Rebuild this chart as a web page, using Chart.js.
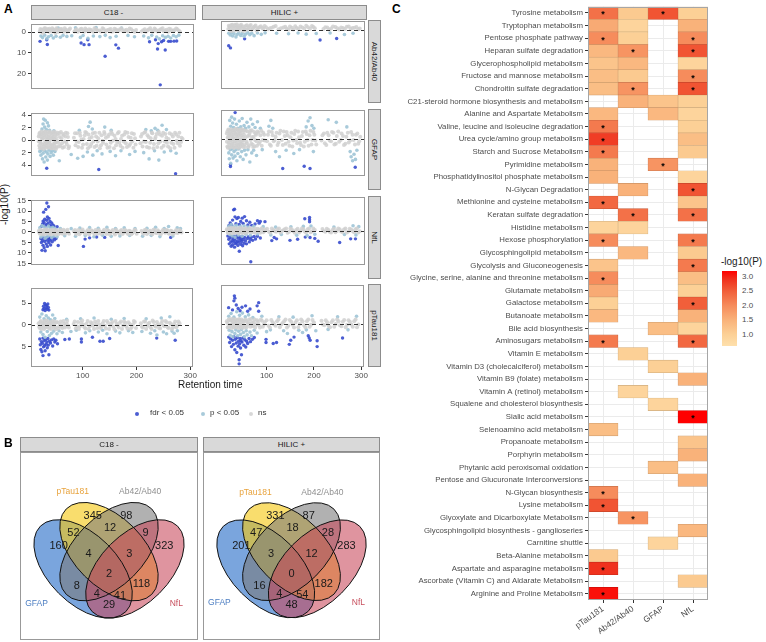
<!DOCTYPE html>
<html>
<head>
<meta charset="utf-8">
<script src="https://cdn.jsdelivr.net/npm/chart.js@4.4.0/dist/chart.umd.min.js"></script>
<style>
  body { margin: 0; width: 766px; height: 642px; position: relative; background: #fff; overflow: hidden;
         font-family: "Liberation Sans", Arial, sans-serif; }
  canvas { position: absolute; }
  .strip { position: absolute; background: #d9d9d9; border: 1px solid #8c8c8c; box-sizing: border-box;
           font-size: 8px; color: #1a1a1a; display: flex; align-items: center; justify-content: center; }
  .strip.v span { transform: rotate(90deg); white-space: nowrap; }
  .tag { position: absolute; font-weight: bold; font-size: 12px; color: #000; }
  .txt { position: absolute; white-space: nowrap; color: #1a1a1a; }
  .dot { position: absolute; width: 4px; height: 4px; border-radius: 2px; }
</style>
</head>
<body>
<script>
const F = "'Liberation Sans', Arial, sans-serif";

// ---------- panel A: facet scatter ----------
const colNames = ['C18 -', 'HILIC +'];
const rowNames = ['Ab42/Ab40', 'GFAP', 'NfL', 'pTau181'];
const xTicks = [100, 200, 300];
const rowTicks = [[0, -10, -20], [4, 2, 0, -2, -4], [15, 10, 5, 0, -5, -10, -15], [5, 0, -5]];
const rowMin = [-27.5, -5.75, -15.8, -9.6];
const rowMax = [4.1, 4.4, 15.4, 8.5];

// pairs: retention time, signed -log10(P)
const c18AbNs = [20,0.5, 23,1.2, 26,-0.3, 28,1.8, 31,0.8, 34,1.5, 37,0.2, 40,1.1, 43,1.9, 46,0.6, 49,-0.4, 52,1.3, 56,0.9, 60,1.6, 64,0.3, 68,1.2, 72,0.7, 76,1.8, 84,0.4, 88,1.4, 93,0.9, 97,1.7, 102,0.2, 106,1.1, 111,1.5, 116,0.6, 121,1.9, 126,1.0, 133,0.4, 138,1.6, 143,0.8, 148,1.3, 153,0.2, 158,1.7, 163,0.9, 168,1.4, 174,0.5, 180,1.2, 186,1.8, 192,0.7, 198,1.1, 208,0.4, 214,1.5, 219,0.9, 224,1.9, 229,0.3, 234,1.3, 239,0.8, 244,1.6, 249,0.5, 254,1.2, 259,1.7, 264,0.6, 269,1.0, 274,1.4, 279,0.3,
  21,1.6, 24,0.1, 27,1.0, 30,2.0, 33,0.6, 35,1.3, 38,1.7, 42,0.4, 45,1.4, 48,0.9, 51,1.9, 54,0.3, 58,1.4, 62,0.7, 66,1.9, 70,0.2, 74,1.3, 86,1.0, 90,0.3, 95,1.5, 100,0.8, 104,1.8, 109,0.5, 114,1.2, 119,0.3, 124,1.4, 130,0.8, 136,1.9, 141,0.3, 146,1.1, 151,1.6, 156,0.5, 161,1.3, 166,0.7, 171,1.8, 177,0.9, 183,0.4, 189,1.4, 195,0.2, 211,1.0, 216,0.2, 221,1.3, 227,0.7, 232,1.8, 237,0.4, 242,1.1, 247,1.9, 252,0.7, 257,0.3, 262,1.4, 267,0.8, 272,1.8, 277,0.9];
const c18AbP = [22,-1.8, 25,-2.6, 29,-1.4, 33,-3.1, 36,-2.2, 41,-1.6, 45,-2.8, 50,-1.9, 54,2.1, 58,-2.4, 63,-1.5, 70,-2.0, 79,-1.7, 86,2.2, 95,-2.5, 100,-1.6, 109,-2.9, 119,-1.8, 124,2.3, 131,-2.1, 141,-1.5, 150,-2.6, 161,-1.9, 171,2.0, 183,-1.6, 195,-2.2, 212,-1.8, 221,-2.7, 227,-1.5, 236,-2.3, 241,-3.2, 247,-1.7, 252,-2.5, 257,-1.9, 262,-2.8, 267,-1.6, 272,-2.2, 277,-1.4];
const c18AbFdr = [20.4,-4.4, 32.8,-3.6, 33.9,-5.9, 96.3,-5.2, 101.8,-6.0, 111,-6.0, 108.7,-3.6, 140.7,-11.6, 160.5,-6.1, 165.4,-7.7, 222.8,-4.6, 233.9,-3.6, 237.6,-8.1, 238.9,-5.5, 242.6,-25.5, 245,-4.6, 248.7,-4.0, 251.8,-8.6, 258,-4.4, 262,-4.4, 268,-4.3, 273,-4.2];

const hilicAbNs = [19,0.4, 22,1.6, 24,-0.5, 27,2.3, 29,0.9, 32,1.8, 34,-0.2, 37,2.5, 39,1.1, 42,0.3, 44,2.0, 47,1.4, 50,-0.6, 53,0.8, 56,1.9, 59,0.2, 62,1.3, 66,2.2, 70,0.6, 74,1.5, 78,-0.3, 82,1.0, 87,1.7, 92,0.4, 98,1.2, 106,0.7, 114,1.4, 124,0.3, 134,1.1, 141,0.6, 148,1.5, 155,0.2, 162,0.9, 170,1.6, 178,0.5, 186,1.2, 194,1.8, 200,0.7, 218,0.4, 226,1.1, 234,0.6, 243,1.3, 251,0.2, 259,0.9, 267,1.4, 275,0.5, 283,1.0, 291,0.3,
  20,1.9, 23,0.7, 25,2.1, 28,-0.4, 30,1.4, 33,2.4, 36,0.5, 38,1.7, 41,-0.3, 43,1.2, 46,2.3, 49,0.6, 51,1.6, 55,-0.1, 58,2.1, 61,0.7, 64,1.8, 68,0.0, 72,1.2, 76,2.0, 80,0.5, 85,1.3, 90,0.8, 95,1.8, 102,0.3, 110,1.0, 118,1.8, 129,0.7, 138,1.4, 145,0.1, 152,1.0, 159,1.7, 166,0.4, 174,1.1, 182,1.9, 190,0.5, 197,1.3, 222,1.2, 230,0.2, 238,1.5, 247,0.7, 255,1.1, 263,0.4, 271,1.6, 279,0.8, 287,1.3, 294,0.6];
const hilicAbP = [20,-1.6, 23,-2.4, 26,-1.3, 28,-2.9, 31,-1.8, 35,-3.3, 38,-2.1, 41,-1.5, 45,-2.6, 48,-1.7, 52,-3.0, 55,-2.0, 60,-1.4, 64,-2.3, 68,-1.6, 73,-2.7, 80,-1.5, 88,-2.1, 96,-1.4, 120,-1.6, 145,-1.8, 165,-1.5, 182,-2.0, 203,-1.7, 232,-1.5, 262,-2.2, 280,-1.6];
const hilicAbFdr = [19.8,-7.4, 23.5,-8.4, 53.1,-4.2, 211,-4.7, 245.7,-4.0];

const c18GfNs = [18,0.6, 19,-0.9, 20,1.2, 21,-0.3, 22,0.9, 23,-1.3, 24,0.2, 25,1.0, 26,-0.7, 27,0.4, 28,-1.1, 29,1.3, 30,-0.2, 31,0.7, 32,-0.9, 33,1.1, 34,-0.5, 35,0.3, 36,-1.2, 37,0.8, 38,-0.1, 39,1.2, 40,-0.8, 41,0.5, 42,-1.3, 43,0.1, 44,1.0, 45,-0.6, 46,0.6, 47,-1.0, 48,1.3, 49,-0.3, 50,0.4, 51,-1.1, 52,0.9, 54,-0.4, 56,1.1, 58,-0.9, 60,0.3, 62,-1.2, 64,0.8, 66,-0.2, 68,1.2, 70,-0.7, 72,0.5, 74,-1.0,
  83,0.4, 86,-0.8, 89,1.1, 92,-0.3, 95,0.7, 98,-1.2, 101,0.2, 104,1.3, 107,-0.6, 110,0.9, 113,-1.0, 116,0.5, 119,-0.2, 122,1.2, 125,-0.9, 128,0.3, 131,-1.3, 134,0.8, 137,-0.4, 140,1.0, 143,-0.7, 146,0.6, 149,-1.1, 152,1.3, 155,-0.1, 158,0.7, 161,-0.8, 164,1.1, 167,-0.4, 170,0.2, 173,-1.2, 176,0.9, 179,-0.5, 182,1.2, 185,-0.9, 188,0.4, 191,-0.2, 194,1.0, 197,-0.7,
  207,0.6, 210,-1.0, 213,1.2, 216,-0.3, 219,0.8, 222,-1.2, 225,0.3, 228,1.1, 231,-0.6, 234,0.5, 237,-1.1, 240,1.3, 243,-0.2, 246,0.7, 249,-0.9, 252,1.0, 255,-0.4, 258,0.2, 261,-1.3, 264,0.9, 267,-0.6, 270,1.2, 273,-0.1, 276,0.6, 279,-0.9, 282,0.4,
  18,-0.2, 19,1.0, 20,-1.3, 21,0.6, 22,-0.5, 23,1.4, 24,-1.0, 25,0.3, 26,1.2, 27,-1.4, 28,0.8, 29,-0.6, 30,1.4, 31,-1.2, 32,0.3, 33,-0.4, 34,1.3, 35,-1.0, 36,0.5, 37,-0.2, 38,1.4, 39,-0.6, 40,0.2, 41,-1.3, 42,1.1, 43,-0.9, 44,0.4, 45,1.3, 46,-1.3, 47,0.2, 48,-0.5, 49,1.0, 50,-1.4, 52,-0.1, 53,1.2, 55,-1.0, 57,0.5, 59,1.3, 61,-0.5, 63,1.0, 65,-1.1, 67,0.6, 69,-0.3, 71,1.1, 73,-1.3,
  85,1.1, 88,-0.2, 91,-1.1, 94,1.2, 97,0.1, 100,-0.7, 103,0.8, 106,1.2, 109,-1.3, 112,0.3, 115,-0.6, 118,1.1, 121,-1.1, 124,0.6, 127,-0.2, 130,1.2, 133,-0.8, 136,-0.1, 139,1.3, 142,0.4, 145,-1.2, 148,0.9, 151,-0.4, 154,1.0, 157,-1.3, 160,0.2, 163,-0.3, 166,1.3, 169,-0.9, 172,0.7, 175,-0.2, 178,1.3, 181,-1.1, 184,0.5, 187,-0.6, 190,1.1, 193,-1.2, 196,0.3,
  206,-0.5, 209,1.0, 212,-0.2, 215,1.3, 218,-1.1, 221,0.5, 224,-0.4, 227,1.2, 230,-1.3, 233,0.2, 236,1.0, 239,-0.5, 242,0.9, 245,-1.2, 248,1.2, 251,-0.2, 254,0.4, 257,-1.0, 260,1.1, 263,-0.4, 266,0.6, 269,-1.2, 272,0.9, 275,-0.5, 278,1.2, 281,-0.3, 284,0.2];
const c18GfP = [24,1.8, 26,2.6, 27,3.4, 29,2.1, 30,3.2, 32,1.7, 34,2.8, 36,2.3, 38,1.6, 46,1.5, 93,1.6, 110,2.2, 113,2.9, 117,1.8, 140,2.1, 152,1.6, 216,1.7, 226,1.5, 233,1.9, 238,1.6, 246,2.4, 254,1.7,
  20,-1.8, 22,-2.4, 23,-1.6, 25,-3.0, 26,-2.1, 28,-3.5, 29,-1.7, 31,-2.7, 32,-1.9, 34,-3.2, 35,-2.2, 37,-1.6, 39,-2.6, 41,-2.0, 43,-1.7, 45,-2.4, 48,-1.8, 56,-3.3, 78,-2.3, 90,-2.9, 100,-2.6, 108,-1.9, 118,-2.4, 126,-1.7, 135,-2.2, 150,-1.8, 160,-2.5, 170,-1.7, 186,-2.3, 196,-1.8, 212,-2.0, 222,-3.0, 232,-1.7, 240,-3.2, 250,-1.9, 262,-1.7, 272,-2.1];
const c18GfFdr = [32.8,-4.5, 129,-4.7, 271,-5.4];

const hilicGfNs = [16,0.8, 17,-1.2, 18,0.2, 19,1.4, 20,-0.6, 21,0.5, 22,-1.4, 23,1.0, 24,-0.2, 25,0.7, 26,-1.0, 27,1.3, 28,-0.4, 29,0.3, 30,-1.3, 31,0.9, 32,-0.8, 33,1.2, 34,0.0, 35,-1.1, 36,0.6, 37,-0.5, 38,1.4, 39,-1.4, 40,0.4, 41,-0.9, 42,1.1, 43,-0.1, 44,0.8, 45,-1.2, 46,1.3, 47,-0.6, 48,0.2, 49,-1.0, 50,1.0, 51,-0.3, 52,0.6, 54,-1.3, 56,1.2, 58,-0.7, 60,0.4, 62,-1.1, 64,0.9, 66,-0.2, 68,1.3, 70,-0.9, 72,0.3, 74,-1.2, 76,0.8, 78,-0.4, 80,1.1, 83,-0.8, 86,0.5, 89,-1.1, 92,0.9, 95,-0.3,
  102,0.6, 106,-0.9, 110,1.0, 114,-0.4, 118,0.3, 122,-1.0, 126,0.8, 131,-0.2, 135,1.1, 139,-0.8, 143,0.5, 147,-1.1, 151,0.9, 155,-0.3, 159,1.2, 163,-0.7, 167,0.2, 171,-1.0, 175,1.0, 179,-0.5, 183,0.7, 187,-1.1, 191,1.2, 195,-0.2, 199,0.6, 203,-0.9,
  216,0.5, 221,-0.7, 226,0.9, 231,-0.3, 236,1.0, 241,-0.9, 246,0.4, 251,-0.5, 256,0.8, 261,-1.0, 266,0.3, 271,-0.6, 276,1.0, 281,-0.2, 286,0.6, 291,-0.8, 295,0.3,
  16,-0.5, 17,1.1, 18,-1.4, 19,0.1, 20,1.3, 21,-0.9, 22,0.7, 23,-0.3, 24,1.4, 25,-1.3, 26,0.2, 27,-0.8, 28,1.2, 29,-0.1, 30,0.6, 31,-1.4, 32,1.4, 33,-0.4, 34,0.9, 35,1.5, 36,-1.3, 37,0.3, 38,-0.9, 39,0.8, 40,1.3, 41,-0.2, 42,-1.4, 43,0.6, 44,-0.6, 45,1.4, 46,-0.9, 47,0.5, 48,1.4, 49,-0.2, 50,-1.3, 52,1.3, 53,-0.9, 55,0.2, 57,-0.5, 59,1.1, 61,-1.3, 63,0.5, 65,1.2, 67,-0.8, 69,0.2, 71,-1.3, 73,1.0, 75,-0.2, 77,0.6, 79,-1.1, 82,0.9, 85,-0.5, 88,1.2, 91,-0.2, 94,0.6,
  100,-0.4, 104,1.1, 108,-1.1, 112,0.5, 116,-0.2, 120,0.9, 124,-0.6, 128,1.2, 133,-1.0, 137,0.4, 141,1.0, 145,-0.5, 149,0.2, 153,-1.2, 157,0.7, 161,-0.2, 165,1.1, 169,-0.6, 173,0.4, 177,-1.2, 181,1.1, 185,-0.2, 189,0.5, 193,-0.9, 197,1.0, 201,-0.3,
  214,-0.3, 219,0.8, 224,-1.0, 229,0.5, 234,-0.4, 239,0.9, 244,-0.8, 249,1.1, 254,-0.2, 259,0.4, 264,-0.8, 269,0.9, 274,-0.3, 279,0.6, 284,-0.9, 289,0.8, 293,-0.4];
const hilicGfP = [22,2.8, 24,1.9, 26,3.3, 28,2.4, 30,1.7, 32,3.0, 36,2.2, 39,1.6, 42,2.7, 45,1.8, 48,3.1, 52,2.0, 55,1.6, 58,2.5, 62,1.8, 66,3.0, 70,2.2, 75,1.7, 80,2.6, 86,1.6, 104,1.9, 108,2.8, 112,1.6, 182,1.8, 186,2.7, 190,3.2, 194,2.0, 198,1.6, 228,2.9, 245,2.5, 267,1.8,
  20,-2.2, 21,-3.1, 23,-1.7, 24,-3.8, 26,-2.5, 27,-1.6, 29,-3.0, 31,-2.0, 33,-2.7, 35,-1.7, 37,-3.4, 39,-2.3, 41,-1.6, 44,-2.8, 47,-2.0, 50,-3.2, 53,-1.8, 56,-2.5, 60,-1.7, 64,-3.6, 68,-2.2, 72,-1.8, 78,-2.6, 90,-1.7, 118,-2.0, 126,-2.8, 140,-1.8, 156,-2.3, 168,-1.7, 197,-2.0, 274,-2.0, 276,-2.8, 279,-3.4, 282,-2.4, 285,-3.2, 288,-1.8];
const hilicGfFdr = [33.3,4.0, 23.5,-4.0, 23.5,-4.3, 132.8,-4.6, 177.8,-4.25, 190,-4.6, 284.6,-4.4];

const c18NfNs = [18,0.5, 20,-0.8, 22,1.0, 24,-0.3, 26,0.7, 28,-1.1, 30,0.2, 32,1.2, 34,-0.6, 36,0.4, 38,-1.0, 40,0.9, 42,-0.2, 44,1.1, 46,-0.7, 48,0.3, 50,-1.2, 53,0.8, 56,-0.4, 59,1.0, 62,-0.9, 65,0.5, 68,-0.1, 71,1.1, 74,-0.8, 83,0.3, 87,-1.0, 91,0.9, 95,-0.4, 99,1.2, 103,-0.6, 107,0.4, 111,-1.1, 115,0.8, 119,-0.2, 123,1.0, 127,-0.9, 131,0.2, 135,-0.5, 139,1.1, 143,-1.0, 147,0.6, 151,-0.3, 155,0.9, 159,-1.2, 163,0.4, 167,-0.7, 171,1.0, 175,-0.2, 179,0.7, 183,-1.0, 187,0.3, 191,-0.6, 195,1.1, 199,-0.9, 208,0.5, 212,-0.8, 216,1.0, 220,-0.3, 224,0.6, 228,-1.1, 232,0.9, 236,-0.5, 240,0.2, 244,-1.0, 248,1.1, 252,-0.4, 256,0.7, 260,-0.9, 264,0.3, 268,-0.6, 272,1.0, 276,-0.2, 280,0.5,
  19,-0.3, 21,0.8, 23,-1.0, 25,0.4, 27,-0.5, 29,1.1, 31,-0.8, 33,0.1, 35,1.0, 37,-0.4, 39,0.6, 41,-1.1, 43,0.3, 45,-0.2, 47,1.0, 49,-0.6, 51,0.5, 55,-1.0, 58,0.2, 61,-0.5, 64,1.1, 67,-0.7, 70,0.4, 73,-0.2, 85,0.9, 89,-0.3, 93,-1.1, 97,0.6, 101,0.1, 105,-0.9, 109,1.0, 113,-0.3, 117,0.5, 121,-1.0, 125,0.2, 129,1.0, 133,-0.8, 137,0.4, 141,-0.2, 145,1.0, 149,-1.1, 153,0.3, 157,-0.5, 161,1.1, 165,-0.1, 169,0.5, 173,-1.0, 177,0.9, 181,-0.4, 185,0.6, 189,-1.1, 193,0.1, 197,0.8, 210,-0.4, 214,0.9, 218,-1.0, 222,0.3, 226,-0.6, 230,1.1, 234,-0.2, 238,0.8, 242,-0.8, 246,0.4, 250,-0.1, 254,1.0, 258,-0.7, 262,0.6, 266,-1.0, 270,0.2, 274,-0.5, 278,0.9, 282,-0.3];
const c18NfP = [20,2.0, 22,-2.4, 24,3.1, 26,-1.8, 28,2.5, 30,-3.0, 32,1.8, 34,-2.2, 36,2.8, 38,-1.6, 40,1.9, 42,-2.7, 44,2.3, 46,-1.9, 48,1.6, 52,-2.3, 58,1.7, 66,-1.8, 78,1.6, 86,-2.0, 94,1.9, 104,-1.7, 112,2.1, 120,-2.3, 128,1.8, 136,-1.6, 144,2.2, 152,-2.1, 160,1.7, 168,-1.9, 176,2.0, 186,-1.7, 196,1.6, 210,-2.0, 218,1.8, 226,-1.6, 234,2.3, 242,-2.2, 250,1.7, 258,2.6, 266,-1.9, 274,2.0, 280,1.6];
const c18NfFdr = [23,2.7, 25,3.8, 26,5.2, 27,9.5, 28,4.4, 29,6.1, 30,2.9, 31,10.8, 32,3.5, 33,5.6, 33,13.9, 34,7.2, 35,4.1, 36,12.1, 37,6.5, 38,3.2, 39,5.0, 40,2.6, 42,4.3, 44,3.4, 46,2.9, 52,2.5,
  22,-3.2, 23,-5.0, 24,-8.8, 25,-4.1, 26,-6.4, 27,-2.8, 28,-7.5, 29,-4.6, 30,-9.0, 31,-3.6, 32,-5.8, 33,-2.6, 34,-6.9, 35,-4.3, 36,-3.1, 37,-5.2, 38,-2.7, 39,-4.0, 40,-6.2, 41,-3.3, 43,-4.7, 45,-2.9, 47,-3.8, 50,-3.1, 54,-6.5, 100.6,-6.9, 103.7,-3.4, 112,-2.8, 125,-2.4, 140,-2.6, 262,-2.6];

const hilicNfNs = [16,0.6, 18,-0.9, 20,1.1, 22,-0.2, 24,0.8, 26,-1.2, 28,0.3, 30,1.2, 32,-0.6, 34,0.5, 36,-1.0, 38,0.9, 40,-0.3, 42,1.1, 44,-0.8, 46,0.2, 48,-1.1, 50,0.7, 52,-0.4, 55,1.0, 58,-0.9, 61,0.4, 64,-0.2, 67,1.1, 70,-0.7, 73,0.3, 76,-1.0, 80,0.8, 84,-0.5, 88,1.0, 92,-0.8, 96,0.4, 104,-0.6, 110,0.9, 116,-0.3, 122,0.6, 128,-0.9, 134,0.2, 140,1.0, 146,-0.6, 152,0.5, 158,-1.0, 164,0.8, 170,-0.2, 176,0.6, 182,-0.9, 188,1.0, 194,-0.4, 200,0.3, 216,0.7, 222,-0.5, 228,0.4, 234,-0.9, 240,0.8, 246,-0.2, 252,0.6, 258,-0.7, 264,0.9, 270,-0.4, 276,0.5, 282,-0.8, 288,1.0, 294,-0.3,
  17,0.2, 19,-1.1, 21,0.8, 23,-0.6, 25,1.2, 27,-0.3, 29,0.7, 31,-1.0, 33,0.3, 35,1.0, 37,-0.5, 39,0.2, 41,-1.2, 43,0.9, 45,-0.4, 47,1.1, 49,-0.7, 51,0.4, 54,-1.1, 57,0.6, 60,-0.3, 63,1.0, 66,-0.8, 69,0.3, 72,-0.5, 75,1.0, 78,-0.2, 82,0.5, 86,-1.0, 90,0.7, 94,-0.3, 100,0.8, 107,-1.0, 113,0.4, 119,-0.5, 125,1.0, 131,-0.2, 137,0.6, 143,-1.0, 149,0.9, 155,-0.3, 161,0.3, 167,-0.9, 173,1.0, 179,-0.4, 185,0.6, 191,-0.8, 197,0.9, 219,-0.2, 225,0.8, 231,-0.6, 237,0.3, 243,-0.8, 249,1.0, 255,-0.4, 261,0.5, 267,-0.9, 273,0.8, 279,-0.2, 285,0.6, 291,-0.9];
const hilicNfP = [20,2.0, 22,-1.8, 25,2.8, 27,-2.5, 30,1.7, 33,-3.0, 36,2.4, 40,-2.0, 44,1.9, 48,-2.6, 52,2.2, 56,-1.7, 60,1.6, 65,-2.2, 72,2.0, 80,-1.6, 92,1.8, 108,-2.0, 118,1.6, 130,-1.8, 150,1.7, 162,-2.1, 176,1.9, 184,-2.3, 192,2.1, 200,-1.7, 240,1.6, 262,-1.8, 280,2.2, 286,-2.0, 292,1.8];
const hilicNfFdr = [20,2.2, 23,3.5, 26,2.6, 28,4.8, 30,9.5, 32,9.8, 33,6.3, 35,3.1, 37,5.5, 40,6.0, 42,2.8, 45,4.2, 48,5.7, 50,3.3, 53,6.4, 57,4.5, 60,2.6, 64,3.8, 68,2.4, 75,3.0, 80,4.5, 83.6,3.4, 86,4.2, 95.7,4.1, 179,5.4, 189,6.0, 189,4.0, 189,5.0,
  18,-2.5, 20,-4.0, 21,-6.1, 23,-3.2, 24,-5.3, 25,-7.2, 26,-2.8, 27,-4.6, 28,-6.5, 29,-3.7, 30,-5.1, 31,-2.6, 32,-7.6, 33,-4.3, 34,-6.0, 35,-3.0, 36,-5.6, 37,-2.4, 38,-4.9, 39,-6.8, 40,-3.5, 41,-5.4, 42,-9.5, 43,-2.9, 44,-4.4, 45,-6.3, 46,-3.8, 47,-5.0, 48,-2.7, 49,-7.0, 50,-4.1, 52,-5.8, 53,-3.2, 55,-4.7, 57,-6.1, 59,-3.6, 61,-2.8, 63,-5.2, 65,-4.0, 66,-14.3, 67,-3.1, 70,-4.5, 73,-2.7, 76,-3.9, 80,-2.6, 86,-3.4, 110,-4.6, 115,-3.2, 120,-3.8, 148,-4.5, 164,-4.0, 180,-3.0, 190,-3.2, 200,-3.6, 207,-4.9, 252,-5.5, 275,-3.8, 285,-3.8];

const c18PtNs = [18,0.4, 20,-0.7, 22,0.9, 24,-0.2, 26,0.6, 28,-0.9, 30,0.2, 32,1.0, 34,-0.5, 36,0.3, 38,-0.8, 40,0.7, 42,-0.1, 44,0.9, 46,-0.6, 48,0.4, 50,-1.0, 53,0.6, 56,-0.3, 59,0.8, 62,-0.7, 65,0.3, 68,-0.1, 71,0.9, 74,-0.6, 83,0.2, 87,-0.8, 91,0.7, 95,-0.3, 99,1.0, 103,-0.5, 107,0.3, 111,-0.9, 115,0.6, 119,-0.2, 123,0.8, 127,-0.7, 131,0.1, 135,-0.4, 139,0.9, 143,-0.8, 147,0.5, 151,-0.2, 155,0.7, 159,-1.0, 163,0.3, 167,-0.6, 171,0.8, 175,-0.1, 179,0.5, 183,-0.8, 187,0.2, 191,-0.5, 195,0.9, 199,-0.7, 208,0.4, 212,-0.6, 216,0.8, 220,-0.2, 224,0.5, 228,-0.9, 232,0.7, 236,-0.4, 240,0.1, 244,-0.8, 248,0.9, 252,-0.3, 256,0.6, 260,-0.7, 264,0.2, 268,-0.5, 272,0.8, 276,-0.1, 280,0.4,
  19,-0.4, 21,0.7, 23,-0.9, 25,0.3, 27,-0.3, 29,0.9, 31,-0.6, 33,0.1, 35,0.8, 37,-0.5, 39,0.5, 41,-0.9, 43,0.2, 45,-0.2, 47,0.8, 49,-0.5, 51,0.6, 55,-0.8, 58,0.1, 61,-0.4, 64,0.9, 67,-0.6, 70,0.3, 73,-0.2, 85,0.8, 89,-0.3, 93,-0.9, 97,0.5, 101,0.1, 105,-0.8, 109,0.9, 113,-0.3, 117,0.4, 121,-0.9, 125,0.2, 129,0.9, 133,-0.7, 137,0.4, 141,-0.2, 145,0.9, 149,-0.9, 153,0.3, 157,-0.4, 161,0.9, 165,-0.1, 169,0.5, 173,-0.9, 177,0.8, 181,-0.3, 185,0.6, 189,-0.9, 193,0.1, 197,0.7, 210,-0.4, 214,0.8, 218,-0.9, 222,0.3, 226,-0.5, 230,1.0, 234,-0.2, 238,0.7, 242,-0.7, 246,0.4, 250,-0.1, 254,0.9, 258,-0.6, 262,0.5, 266,-0.9, 270,0.2, 274,-0.5, 278,0.8];
const c18PtP = [20,1.8, 22,-1.6, 24,2.5, 26,-2.2, 28,1.4, 30,-2.8, 32,2.1, 34,-1.5, 36,1.6, 38,-2.4, 40,1.2, 42,-1.9, 44,2.3, 46,-1.4, 48,1.5, 52,-2.0, 56,-1.3, 62,-1.7, 70,1.3, 78,-1.5, 88,-1.2, 96,1.4, 105,-1.8, 113,-1.3, 121,1.6, 129,-1.6, 137,-1.2, 145,-2.0, 153,1.3, 161,-1.4, 169,-1.8, 177,1.5, 185,-1.3, 193,-1.7, 210,-1.5, 218,1.4, 226,-1.9, 234,-1.3, 238,-2.3, 246,1.6, 250,-1.6, 256,-2.0, 262,1.9, 266,-1.4, 270,-1.9, 276,-1.3];
const c18PtFdr = [26,3.5, 27,4.3, 28,3.8, 29,4.9, 30,3.3, 31,4.6, 32,3.9, 33,4.4, 34,3.6, 35,4.8, 36,4.0, 37,3.4,
  20,-3.2, 21,-4.5, 22,-5.6, 23,-3.8, 24,-6.1, 25,-4.2, 26,-3.0, 26,-7.0, 27,-5.0, 28,-3.6, 29,-4.7, 30,-5.9, 31,-3.3, 32,-4.4, 33,-3.9, 34,-5.2, 35,-3.1, 36,-4.6, 37,-6.8, 38,-3.7, 40,-4.1, 42,-3.4, 44,-4.8, 46,-3.2, 48,-3.9, 50,-3.5, 53,-4.3, 66.7,-3.3, 75,-3.2, 97.5,-3.2, 97.5,-3.9, 118,-2.8, 132,-3.7, 138,-3.7, 150,-3.1, 237.6,-3.0, 272,-3.5];

const hilicPtNs = [16,0.5, 18,-0.8, 20,0.9, 22,-0.3, 24,0.7, 26,-1.0, 28,0.2, 30,1.0, 32,-0.5, 34,0.4, 36,-0.9, 38,0.8, 40,-0.2, 42,1.0, 44,-0.7, 46,0.3, 48,-1.0, 50,0.6, 52,-0.4, 55,0.9, 58,-0.8, 61,0.3, 64,-0.1, 67,1.0, 70,-0.6, 73,0.2, 76,-0.9, 80,0.7, 84,-0.4, 88,0.9, 92,-0.7, 96,0.3, 104,-0.5, 110,0.8, 116,-0.2, 122,0.5, 128,-0.8, 134,0.1, 140,0.9, 146,-0.5, 152,0.4, 158,-0.9, 164,0.7, 170,-0.1, 176,0.5, 182,-0.8, 188,0.9, 194,-0.3, 200,0.2, 216,0.6, 222,-0.4, 228,0.3, 234,-0.8, 240,0.7, 246,-0.1, 252,0.5, 258,-0.6, 264,0.8, 270,-0.3, 276,0.4, 282,-0.7, 288,0.9, 294,-0.2,
  17,0.1, 19,-0.9, 21,0.7, 23,-0.5, 25,1.0, 27,-0.3, 29,0.6, 31,-0.9, 33,0.3, 35,0.9, 37,-0.4, 39,0.2, 41,-1.0, 43,0.8, 45,-0.3, 47,0.9, 49,-0.6, 51,0.4, 54,-0.9, 57,0.5, 60,-0.3, 63,0.9, 66,-0.7, 69,0.3, 72,-0.5, 75,0.9, 78,-0.2, 82,0.4, 86,-0.9, 90,0.6, 94,-0.3, 100,0.7, 107,-0.9, 113,0.3, 119,-0.5, 125,0.9, 131,-0.2, 137,0.5, 143,-0.9, 149,0.8, 155,-0.3, 161,0.2, 167,-0.8, 173,0.9, 179,-0.4, 185,0.5, 191,-0.7, 197,0.8, 219,-0.2, 225,0.7, 231,-0.5, 237,0.3, 243,-0.7, 249,0.9, 255,-0.4, 261,0.4, 267,-0.8, 273,0.7, 279,-0.2, 285,0.5, 291,-0.8];
const hilicPtP = [20,1.6, 21,-1.5, 23,-2.6, 25,2.2, 27,-1.8, 29,-2.9, 31,1.4, 33,-2.2, 35,-1.4, 37,2.6, 39,-2.7, 41,-1.7, 43,1.8, 45,-2.4, 47,-1.3, 49,2.3, 51,-2.0, 53,-2.9, 55,1.5, 57,-1.6, 59,-2.5, 62,1.9, 65,-1.9, 68,-2.7, 71,1.3, 74,-1.5, 80,-2.1, 90,1.6, 100,-1.8, 108,-1.4, 126,1.5, 136,-1.6, 144,-2.2, 156,1.4, 168,-1.5, 176,-2.0, 184,-1.4, 196,1.7, 204,-1.6, 230,-1.3, 250,1.5, 272,-1.4, 290,1.6];
const hilicPtFdr = [32,6.1, 33,5.6, 31,5.0, 19.8,3.5, 28,3.0, 36,4.1, 40,3.3, 44,2.8, 48,3.6, 55.6,3.9, 60,2.7, 80,3.9, 83.3,4.6, 83.3,2.7, 65,3.2,
  20,-3.0, 22,-4.2, 24,-3.4, 26,-5.1, 28,-3.7, 30,-4.6, 31,-2.9, 33,-5.8, 34,-3.5, 36,-4.3, 37,-6.4, 38,-3.1, 40,-5.0, 41,-3.9, 42,-8.0, 42,-8.9, 43,-4.5, 44,-3.3, 45,-5.4, 46,-3.8, 47,-6.9, 48,-4.1, 50,-3.2, 52,-4.8, 54,-3.6, 56,-5.2, 58,-3.9, 60,-4.4, 63,-3.3, 66,-4.0, 70,-3.5, 74,-3.1, 98.8,-3.5, 98.8,-4.2, 114,-4.4, 121,-4.2, 148,-4.6, 151,-3.7, 158,-3.0, 188,-2.7, 190,-3.2, 192,-3.7, 206.8,-5.1, 206.8,-3.8, 260.5,-3.2];

const facetData = [
  [[c18AbNs, c18AbP, c18AbFdr], [hilicAbNs, hilicAbP, hilicAbFdr]],
  [[c18GfNs, c18GfP, c18GfFdr], [hilicGfNs, hilicGfP, hilicGfFdr]],
  [[c18NfNs, c18NfP, c18NfFdr], [hilicNfNs, hilicNfP, hilicNfFdr]],
  [[c18PtNs, c18PtP, c18PtFdr], [hilicPtNs, hilicPtP, hilicPtFdr]]
];
const classNames = ['ns', 'p < 0.05', 'fdr < 0.05'];
const classColors = ['rgba(208,208,208,0.85)', 'rgba(158,196,214,0.9)', 'rgba(55,75,205,0.9)'];
const classRadius = [2.0, 1.8, 1.7];

// ---------- panel B: venn ----------
const vennSets = ['GFAP', 'pTau181', 'Ab42/Ab40', 'NfL'];
const vennRegions = ['GFAP', 'pTau', 'Ab', 'NfL', 'GFAP&pTau', 'pTau&Ab', 'Ab&NfL', 'GFAP&pTau&Ab', 'pTau&Ab&NfL', 'all', 'GFAP&Ab', 'pTau&NfL', 'GFAP&Ab&NfL', 'GFAP&pTau&NfL', 'GFAP&NfL'];
const c18Counts = [160, 345, 98, 323, 52, 12, 9, 4, 3, 2, 8, 118, 4, 41, 29];
const hilicCounts = [201, 331, 87, 283, 47, 18, 28, 3, 12, 0, 16, 182, 4, 54, 48];

// ---------- panel C: heatmap ----------
const markers = ['pTau181', 'Ab42/Ab40', 'GFAP', 'NfL'];
const pathways = ['Tyrosine metabolism', 'Tryptophan metabolism', 'Pentose phosphate pathway', 'Heparan sulfate degradation', 'Glycerophospholipid metabolism', 'Fructose and mannose metabolism', 'Chondroitin sulfate degradation', 'C21-steroid hormone biosynthesis and metabolism', 'Alanine and Aspartate Metabolism', 'Valine, leucine and isoleucine degradation', 'Urea cycle/amino group metabolism', 'Starch and Sucrose Metabolism', 'Pyrimidine metabolism', 'Phosphatidylinositol phosphate metabolism', 'N-Glycan Degradation', 'Methionine and cysteine metabolism', 'Keratan sulfate degradation', 'Histidine metabolism', 'Hexose phosphorylation', 'Glycosphingolipid metabolism', 'Glycolysis and Gluconeogenesis', 'Glycine, serine, alanine and threonine metabolism', 'Glutamate metabolism', 'Galactose metabolism', 'Butanoate metabolism', 'Bile acid biosynthesis', 'Aminosugars metabolism', 'Vitamin E metabolism', 'Vitamin D3 (cholecalciferol) metabolism', 'Vitamin B9 (folate) metabolism', 'Vitamin A (retinol) metabolism', 'Squalene and cholesterol biosynthesis', 'Sialic acid metabolism', 'Selenoamino acid metabolism', 'Propanoate metabolism', 'Porphyrin metabolism', 'Phytanic acid peroxisomal oxidation', 'Pentose and Glucuronate Interconversions', 'N-Glycan biosynthesis', 'Lysine metabolism', 'Glyoxylate and Dicarboxylate Metabolism', 'Glycosphingolipid biosynthesis - ganglioseries', 'Carnitine shuttle', 'Beta-Alanine metabolism', 'Aspartate and asparagine metabolism', 'Ascorbate (Vitamin C) and Aldarate Metabolism', 'Arginine and Proline Metabolism'];
const _ = null;
const pTauVals = [2.3, 1.6, 2.0, 1.4, 1.2, 1.3, 1.3, _, 1.4, 2.2, 2.8, 2.2, 1.5, 1.5, _, 2.4, _, 0.9, 2.0, _, 1.2, 2.0, 1.6, 1.0, 1.4, _, 2.2, _, _, _, _, _, _, 1.3, _, _, _, _, 2.0, 2.6, _, _, _, 1.1, 2.9, _, 3.1];
const abVals   = [1.1, 0.9, 1.0, 1.9, 1.4, 1.1, 1.9, 1.5, _, _, _, _, _, _, 1.5, _, 2.3, 0.9, _, 1.4, _, _, _, _, _, _, _, 1.0, _, _, 0.9, _, _, _, _, _, _, _, _, _, 1.9, _, _, _, _, _, _];
const gfapVals = [2.6, _, _, _, _, _, _, 1.2, 1.4, _, _, _, 1.9, _, _, _, _, _, _, _, _, _, _, _, _, 1.3, _, _, 1.0, _, _, 0.9, _, _, _, _, 1.3, _, _, _, _, _, 0.9, _, _, _, _];
const nflVals  = [1.0, 1.5, 2.0, 2.6, 0.9, 2.0, 2.6, 1.0, 0.9, 1.0, 1.3, 1.1, _, 0.9, 2.6, 1.2, 2.3, _, 2.2, 1.1, 2.2, 1.3, 1.0, 2.5, 1.5, 0.9, 2.4, _, _, 1.5, _, _, 3.2, _, 1.2, 1.5, _, 1.5, _, _, _, 1.4, _, _, _, 1.1, _];
const pTauSig = [1,0,1,0,0,0,0,0,0,1,1,1,0,0,0,1,0,0,1,0,0,1,0,0,0,0,1,0,0,0,0,0,0,0,0,0,0,0,1,1,0,0,0,0,1,0,1];
const abSig   = [0,0,0,1,0,0,1,0,0,0,0,0,0,0,0,0,1,0,0,0,0,0,0,0,0,0,0,0,0,0,0,0,0,0,0,0,0,0,0,0,1,0,0,0,0,0,0];
const gfapSig = [1,0,0,0,0,0,0,0,0,0,0,0,1,0,0,0,0,0,0,0,0,0,0,0,0,0,0,0,0,0,0,0,0,0,0,0,0,0,0,0,0,0,0,0,0,0,0];
const nflSig  = [0,0,1,1,0,1,1,0,0,0,0,0,0,0,1,0,1,0,1,0,1,0,0,1,0,0,1,0,0,0,0,0,1,0,0,0,0,0,0,0,0,0,0,0,0,0,0];
const legendTicks = [3.0, 2.5, 2.0, 1.5, 1.0];

const markerVals = [pTauVals, abVals, gfapVals, nflVals];
const markerSig = [pTauSig, abSig, gfapSig, nflSig];

// ------------------------------------------------------------------
function el(cls, left, top, w, h, html) {
  const d = document.createElement('div');
  d.className = cls;
  d.style.left = left + 'px'; d.style.top = top + 'px';
  if (w != null) d.style.width = w + 'px';
  if (h != null) d.style.height = h + 'px';
  if (html != null) d.innerHTML = html;
  document.body.appendChild(d);
  return d;
}
function addCanvas(left, top, w, h) {
  const c = document.createElement('canvas');
  c.width = w; c.height = h;
  c.style.left = left + 'px'; c.style.top = top + 'px';
  c.style.width = w + 'px'; c.style.height = h + 'px';
  document.body.appendChild(c);
  return c;
}
function toPts(a) {
  const out = [];
  for (let i = 0; i < a.length; i += 2) out.push({ x: a[i], y: a[i + 1] });
  return out;
}

const framePlugin = {
  id: 'frame',
  afterDatasetsDraw(chart, args, opts) {
    const { ctx, chartArea: a } = chart;
    ctx.save();
    if (opts.zeroLine) {
      const y = Math.round(chart.scales.y.getPixelForValue(0)) + 0.5;
      ctx.setLineDash([4, 3]);
      ctx.strokeStyle = '#333';
      ctx.lineWidth = 1;
      ctx.beginPath(); ctx.moveTo(a.left, y); ctx.lineTo(a.right, y); ctx.stroke();
      ctx.setLineDash([]);
    }
    ctx.strokeStyle = opts.color || '#999';
    ctx.lineWidth = 1;
    ctx.strokeRect(Math.round(a.left) + 0.5, Math.round(a.top) + 0.5, Math.round(a.width) - 1, Math.round(a.height) - 1);
    ctx.restore();
  }
};

// ---------- draw panel A ----------
el('tag', 4, 2, null, null, 'A');
const panelRows = [[20, 103], [109, 190], [196, 279], [284, 367]];
const colX = [[12, 186], [200, 169]];

colNames.forEach((n, c) => {
  const left = c === 0 ? 31 : 202;
  el('strip', left, 5, 165, 15, n);
});

panelRows.forEach(([top, bottom], r) => {
  const last = r === panelRows.length - 1;
  el('strip v', 368, top, 13, bottom - top, '<span>' + rowNames[r] + '</span>');
  for (let c = 0; c < 2; c++) {
    const h = (bottom - top) + 3 + (last ? 14 : 3);
    const cv = addCanvas(colX[c][0], top - 3, colX[c][1], h);
    const sets = facetData[r][c];
    new Chart(cv, {
      type: 'scatter',
      data: {
        datasets: sets.map((arr, k) => ({
          label: classNames[k],
          data: toPts(arr),
          pointRadius: classRadius[k],
          pointBackgroundColor: classColors[k],
          backgroundColor: classColors[k],
          pointBorderWidth: 0,
          borderWidth: 0
        }))
      },
      options: {
        responsive: false, animation: false, events: [],
        layout: { padding: { top: 3, bottom: last ? 0 : 3, left: c === 0 ? 0 : 2, right: 2 } },
        plugins: { legend: { display: false }, tooltip: { enabled: false }, frame: { zeroLine: true } },
        scales: {
          x: {
            type: 'linear', min: 3.7, max: 305, display: last,
            border: { display: false },
            grid: { drawOnChartArea: false, color: '#333', tickLength: 3 },
            ticks: { autoSkip: false, maxRotation: 0, color: '#4d4d4d', font: { size: 8, family: F }, padding: 1 },
            afterBuildTicks: s => { s.ticks = xTicks.map(v => ({ value: v })); },
            afterFit: s => { s.height = 14; }
          },
          y: {
            type: 'linear', min: rowMin[r], max: rowMax[r], display: c === 0,
            border: { display: false },
            grid: { drawOnChartArea: false, color: '#333', tickLength: 3 },
            ticks: { autoSkip: false, color: '#4d4d4d', font: { size: 8, family: F }, padding: 2, callback: v => Math.abs(v) },
            afterBuildTicks: s => { s.ticks = rowTicks[r].map(v => ({ value: v })); },
            afterFit: s => { s.width = 19; }
          }
        }
      },
      plugins: [framePlugin]
    });
  }
});

el('txt', 178, 379, null, null, 'Retention time').style.fontSize = '10px';
const yt = el('txt', -16, 199, null, null, '-log10(P)');
yt.style.fontSize = '10px';
yt.style.transform = 'rotate(-90deg)';

// legend A
[[2, 135, 150], [1, 201, 210], [0, 249, 258]].forEach(([k, dx, tx]) => {
  const d = el('dot', dx, 412, null, null, null);
  d.style.background = classColors[k];
  const t = el('txt', tx, 408, null, null, classNames[k]);
  t.style.fontSize = '8px';
  t.style.color = '#333';
});

// ---------- draw panel B ----------
el('tag', 4, 436, null, null, 'B');
const vennShapes = [ // dx, dy (up), semi-major, semi-minor, canvas rotation (deg)
  [-0.15, -0.10, 0.35, 0.20, 45],
  [0, 0, 0.35, 0.20, 45],
  [0, 0, 0.35, 0.20, -45],
  [0.15, -0.10, 0.35, 0.20, -45]
];
const vennFill = ['rgba(40,110,200,0.62)', 'rgba(245,200,20,0.62)', 'rgba(120,120,120,0.58)', 'rgba(200,70,90,0.58)'];
const vennLabelColor = ['#4c7ec2', '#e8a33d', '#8f8f8f', '#c8505e'];
const vennLabelPos = [[-0.42, -0.30], [-0.21, 0.345], [0.18, 0.345], [0.39, -0.30]];
const regionPos = [[-0.292, 0.033], [-0.094, 0.206], [0.10, 0.206], [0.32, 0.033], [-0.206, 0.106], [0.006, 0.135], [0.212, 0.106], [-0.119, -0.015], [0.117, -0.015], [0, -0.13], [-0.187, -0.198], [0.188, -0.187], [-0.071, -0.246], [0.063, -0.254], [0, -0.31]];
const vennUnit = 0.97;

const vennPlugin = {
  id: 'venn',
  afterDraw(chart, args, opts) {
    const { ctx } = chart;
    const sx = chart.scales.x, sy = chart.scales.y;
    const cx = sx.getPixelForValue(0.5), cy = sy.getPixelForValue(0.47);
    const u = sx.getPixelForValue(vennUnit) - sx.getPixelForValue(0);
    ctx.save();
    vennShapes.forEach((s, i) => {
      ctx.beginPath();
      ctx.ellipse(cx + s[0] * u, cy - s[1] * u, s[2] * u, s[3] * u, s[4] * Math.PI / 180, 0, Math.PI * 2);
      ctx.fillStyle = vennFill[i];
      ctx.fill();
    });
    ctx.strokeStyle = '#111';
    ctx.lineWidth = 1;
    vennShapes.forEach(s => {
      ctx.beginPath();
      ctx.ellipse(cx + s[0] * u, cy - s[1] * u, s[2] * u, s[3] * u, s[4] * Math.PI / 180, 0, Math.PI * 2);
      ctx.stroke();
    });
    ctx.textAlign = 'center';
    ctx.textBaseline = 'middle';
    ctx.fillStyle = '#1a1a1a';
    ctx.font = '11px ' + F;
    opts.counts.forEach((n, i) => {
      ctx.fillText(String(n), cx + regionPos[i][0] * u, cy - regionPos[i][1] * u);
    });
    ctx.font = '8.5px ' + F;
    vennSets.forEach((n, i) => {
      ctx.fillStyle = vennLabelColor[i];
      ctx.fillText(n, cx + vennLabelPos[i][0] * u, cy - vennLabelPos[i][1] * u);
    });
    const a = chart.chartArea;
    ctx.strokeStyle = '#999';
    ctx.strokeRect(a.left + 0.5, a.top + 0.5, a.width - 1, a.height - 1);
    ctx.restore();
  }
};

[[20, 178, c18Counts], [203, 177, hilicCounts]].forEach(([left, w, counts], c) => {
  el('strip', left, 437, w, 15, colNames[c]);
  const cv = addCanvas(left, 452, w, 188);
  new Chart(cv, {
    type: 'scatter',
    data: { datasets: [{ data: [] }] },
    options: {
      responsive: false, animation: false, events: [],
      layout: { padding: 0 },
      plugins: { legend: { display: false }, tooltip: { enabled: false }, venn: { counts } },
      scales: { x: { display: false, min: 0, max: 1 }, y: { display: false, min: 0, max: 1 } }
    },
    plugins: [vennPlugin]
  });
});

// ---------- draw panel C ----------
el('tag', 392, 2, null, null, 'C');
const heatStops = [[0.6, [254, 224, 172]], [1.0, [252, 208, 150]], [1.5, [249, 178, 122]], [2.0, [246, 140, 92]], [2.5, [241, 95, 58]], [2.9, [240, 50, 30]], [3.2, [255, 0, 0]]];
function heatRGB(v) {
  if (v <= heatStops[0][0]) return heatStops[0][1];
  for (let i = 1; i < heatStops.length; i++) {
    const [v1, c1] = heatStops[i], [v0, c0] = heatStops[i - 1];
    if (v <= v1) {
      const t = (v - v0) / (v1 - v0);
      return c0.map((x, k) => Math.round(x + (c1[k] - x) * t));
    }
  }
  return heatStops[heatStops.length - 1][1];
}
const heatColor = v => 'rgb(' + heatRGB(v).join(',') + ')';
const heatEdge = v => 'rgb(' + heatRGB(v).map(x => Math.round(x * 0.82)).join(',') + ')';

const starPlugin = {
  id: 'stars',
  afterDatasetsDraw(chart) {
    const ctx = chart.ctx;
    ctx.save();
    ctx.fillStyle = '#000';
    ctx.font = 'bold 9px ' + F;
    ctx.textAlign = 'center';
    ctx.textBaseline = 'middle';
    markerSig.forEach((sig, i) => {
      const meta = chart.getDatasetMeta(i);
      sig.forEach((s, j) => {
        if (!s) return;
        const b = meta.data[j];
        ctx.fillText('*', (b.x + b.base) / 2, b.y + 2);
      });
    });
    ctx.restore();
  }
};

const hc = addCanvas(385, 0, 330, 642);
new Chart(hc, {
  type: 'bar',
  data: {
    labels: pathways,
    datasets: markerVals.map((vals, i) => ({
      label: markers[i],
      data: vals.map(v => v == null ? null : [i, i + 1]),
      backgroundColor: vals.map(v => v == null ? 'rgba(0,0,0,0)' : heatColor(v)),
      borderColor: vals.map(v => v == null ? 'rgba(0,0,0,0)' : heatEdge(v)),
      borderWidth: 0.6,
      borderSkipped: false,
      barPercentage: 1,
      categoryPercentage: 1,
      grouped: false
    }))
  },
  options: {
    indexAxis: 'y',
    responsive: false, animation: false, events: [],
    layout: { padding: { top: 5, right: 7, left: 0, bottom: 0 } },
    plugins: { legend: { display: false }, tooltip: { enabled: false }, frame: { color: '#a6a6a6' } },
    scales: {
      x: {
        type: 'linear', min: 0, max: 4,
        border: { display: false },
        grid: { color: '#ebebeb', tickColor: '#333', tickLength: 3 },
        ticks: { autoSkip: false, minRotation: 35, maxRotation: 35, color: '#4d4d4d', font: { size: 8.5, family: F }, padding: 1,
                 callback: v => markers[Math.floor(v)] },
        afterBuildTicks: s => { s.ticks = markers.map((m, i) => ({ value: i + 0.5 })); },
        afterFit: s => { s.height = 42; }
      },
      y: {
        type: 'category',
        border: { display: false },
        grid: { color: '#ebebeb', tickColor: '#333', tickLength: 3, offset: false },
        ticks: { autoSkip: false, color: '#4d4d4d', font: { size: 7.8, family: F }, padding: 2 },
        afterFit: s => { s.width = 203; }
      }
    }
  },
  plugins: [framePlugin, starPlugin]
});

// colour bar legend
const lgLo = 0.6, lgHi = 3.2, lgTop = 271, lgPx = 29;
const lt = el('txt', 721, 256, null, null, '-log10(P)');
lt.style.fontSize = '10px';
const grad = [];
for (let i = 0; i < heatStops.length; i++) {
  const v = heatStops[i][0];
  grad.push(heatColor(v) + ' ' + ((lgHi - v) / (lgHi - lgLo) * 100).toFixed(1) + '%');
}
const bar = el('txt', 722, lgTop, 15, (lgHi - lgLo) * lgPx, '');
bar.style.background = 'linear-gradient(to bottom, ' + grad.reverse().join(', ') + ')';
legendTicks.forEach(v => {
  const t = el('txt', 742, lgTop + (lgHi - v) * lgPx - 5, null, null, v.toFixed(1));
  t.style.fontSize = '8px';
  t.style.color = '#4d4d4d';
});
</script>
</body>
</html>
